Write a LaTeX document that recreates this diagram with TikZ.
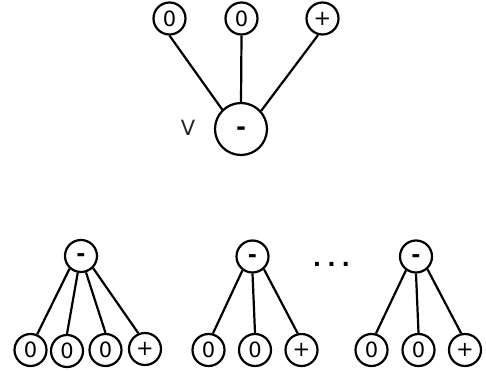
\documentclass[tikz,border=0pt]{standalone}
\usepackage{fontspec}
\setmainfont{DejaVu Sans}
\newcommand{\mns}{\raisebox{-0.27em}[0pt][0pt]{-}}
\begin{document}
\begin{tikzpicture}[x=1pt,y=-1pt,
  sm/.style={circle,draw,line width=2.2pt,minimum size=32pt,inner sep=0pt,font=\fontsize{21}{24}\selectfont},
  big/.style={circle,draw,line width=2.2pt,minimum size=52pt,inner sep=0pt,font=\fontsize{24}{26}\selectfont\bfseries},
  top/.style={sm,font=\fontsize{22}{24}\selectfont\bfseries},
  edge/.style={line width=2.2pt}]
\useasboundingbox (0,0) rectangle (486,371);
% top tree
\node[sm] (s1) at (169.5,18.5) {0};
\node[sm] (s2) at (241.5,18.5) {0};
\node[sm] (s3) at (322.5,18.5) {+};
\node[big] (v) at (241,129) {\mns};
\node[text=black!85,font=\fontsize{21}{24}\selectfont] (vl) at (188,128) {V};
\draw[edge] (s1.south) -- (v.134);
\draw[edge] (s2.south) -- (v.north);
\draw[edge] (s3.-105) -- (v.42);
% bottom tree 1
\node[top] (a) at (81,256) {\mns};
\node[sm] (a1) at (30.5,350) {0};
\node[sm] (a2) at (67,351) {0};
\node[sm] (a3) at (105.5,350) {0};
\node[sm] (a4) at (145,349) {+};
\draw[edge] (a.-132) -- (a1.67);
\draw[edge] (a.-101) -- (a2.north);
\draw[edge] (a.-73) -- (a3.north);
\draw[edge] (a.-45) -- (a4.113);
% bottom tree 2
\node[top] (b) at (252.5,256.5) {\mns};
\node[sm] (b1) at (208.5,350) {0};
\node[sm] (b2) at (255,350) {0};
\node[sm] (b3) at (301.5,350) {+};
\draw[edge] (b.-126) -- (b1.75);
\draw[edge] (b.south) -- (b2.north);
\draw[edge] (b.-48) -- (b3.103);
% dots
\node[font=\fontsize{22}{24}\selectfont\bfseries] (dots) at (331.5,264) {.\hspace{6pt}.\hspace{6pt}.};
% bottom tree 3
\node[top] (c) at (416,256.5) {\mns};
\node[sm] (c1) at (371.5,350) {0};
\node[sm] (c2) at (418.5,350) {0};
\node[sm] (c3) at (465,350) {+};
\draw[edge] (c.-126) -- (c1.75);
\draw[edge] (c.south) -- (c2.north);
\draw[edge] (c.-48) -- (c3.103);
\end{tikzpicture}
\end{document}
